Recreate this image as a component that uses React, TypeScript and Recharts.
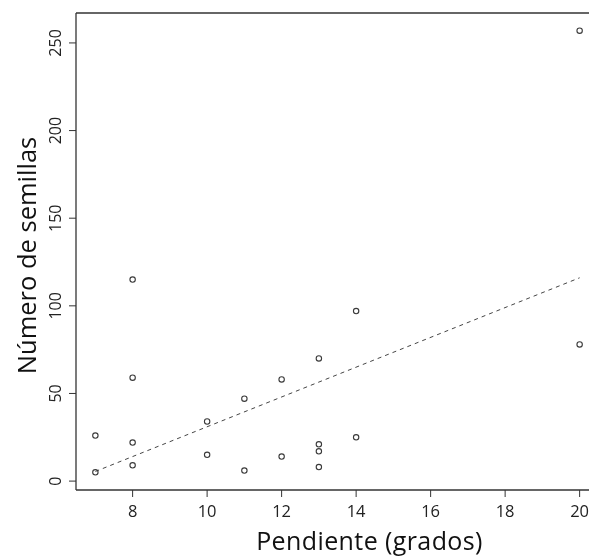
import React from "react";
import {
  ScatterChart,
  Scatter,
  XAxis,
  YAxis,
  ReferenceLine,
} from "recharts";

const slopeDeg = [7, 7, 8, 8, 8, 8, 10, 10, 11, 11, 12, 12, 13, 13, 13, 13, 14, 14, 20, 20];
const seedCount = [5, 26, 115, 59, 22, 9, 34, 15, 47, 6, 58, 14, 70, 21, 17, 8, 97, 25, 257, 78];
const xTicks = [8, 10, 12, 14, 16, 18, 20];
const yTicks = [0, 50, 100, 150, 200, 250];
const trendX = [7, 20];
const trendY = [5.5, 116];
const xDomain = [6.48, 20.52];
const yDomain = [-5.08, 267.08];

const points = slopeDeg.map((x, i) => ({ x, y: seedCount[i] }));

const FONT = "'Open Sans', sans-serif";
const INK = "#333";

const XTick = (props: any) => {
  const { x, y, payload } = props;
  return (
    <text x={x} y={y + 18} textAnchor="middle" fontFamily={FONT} fontSize={16.5} fill="#222">
      {payload.value}
    </text>
  );
};

const YTick = (props: any) => {
  const { x, y, payload } = props;
  const bx = x - 6;
  return (
    <text
      x={bx}
      y={y}
      textAnchor="middle"
      fontFamily={FONT}
      fontSize={16}
      fill="#222"
      transform={`rotate(-90, ${bx}, ${y})`}
    >
      {payload.value}
    </text>
  );
};

const Dot = (props: any) => {
  const { cx, cy } = props;
  return <circle cx={cx} cy={cy} r={2.7} fill="none" stroke="#3a3a3a" strokeWidth={1.1} />;
};

const XTitle = (props: any) => {
  const vb = props.viewBox || {};
  const cx = vb.x + vb.width / 2 + 32;
  return (
    <text
      x={cx}
      y={542}
      textAnchor="middle"
      fontFamily={FONT}
      fontSize={25}
      letterSpacing={0.4}
      fill="#111"
    >
      Pendiente (grados)
    </text>
  );
};

const YTitle = (props: any) => {
  const vb = props.viewBox || {};
  const cy = vb.y + vb.height / 2 + 4;
  const bx = 28;
  return (
    <text
      x={bx}
      y={cy}
      textAnchor="middle"
      fontFamily={FONT}
      fontSize={25.5}
      fill="#111"
      transform={`rotate(-90, ${bx}, ${cy})`}
    >
      Número de semillas
    </text>
  );
};

export default function App() {
  return (
    <div
      style={{
        position: "fixed",
        left: 8,
        top: 8,
        width: 581,
        height: 548,
        overflow: "hidden",
      }}
    >
      <ScatterChart
        width={581}
        height={548}
        margin={{ top: 5, right: -10, bottom: 0, left: 0 }}
      >
        <XAxis
          type="number"
          dataKey="x"
          domain={xDomain}
          ticks={xTicks}
          allowDataOverflow
          tickSize={7}
          tickLine={{ stroke: INK }}
          axisLine={{ stroke: INK, strokeWidth: 1.3 }}
          height={66}
          tick={<XTick />}
          label={<XTitle />}
        />
        <YAxis
          type="number"
          dataKey="y"
          domain={yDomain}
          ticks={yTicks}
          allowDataOverflow
          tickSize={7}
          tickLine={{ stroke: INK }}
          axisLine={{ stroke: INK, strokeWidth: 1.3 }}
          width={68}
          tick={<YTick />}
          label={<YTitle />}
        />
        <ReferenceLine y={yDomain[1]} stroke={INK} strokeWidth={1.3} ifOverflow="visible" />
        <ReferenceLine
          segment={[
            { x: trendX[0], y: trendY[0] },
            { x: trendX[1], y: trendY[1] },
          ]}
          stroke="#444"
          strokeDasharray="4 4"
          ifOverflow="visible"
        />
        <Scatter data={points} shape={<Dot />} isAnimationActive={false} />
      </ScatterChart>
    </div>
  );
}
